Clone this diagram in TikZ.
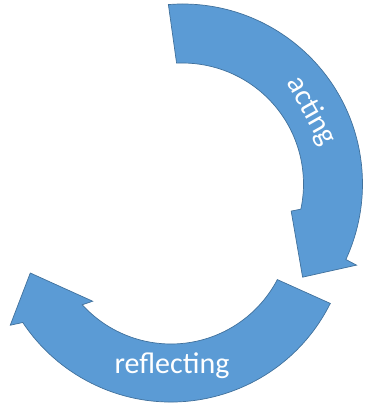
\documentclass[tikz,border=0pt]{standalone}
\usepackage{fontspec}
\setmainfont{Carlito}
\definecolor{arrowfill}{RGB}{91,155,213}
\definecolor{arrowline}{RGB}{65,113,156}
\tikzset{
  cyclearrow/.style={fill=arrowfill, draw=arrowline, line width=0.7pt, line join=miter},
  arrowlabel/.style={text=white, font=\fontsize{30}{32}\selectfont, inner sep=0pt}
}
\begin{document}
\begin{tikzpicture}[x=1pt,y=1pt]
\useasboundingbox (0,0) rectangle (367,407);
% centres of the two curved arrows
\coordinate (ctop) at (182.5,223);
\coordinate (cbot) at (171,183);

% upper arrow: from the top, clockwise down the right side
\draw[cyclearrow]
  ([shift={(ctop)}]94.5:180) arc[start angle=94.5, end angle=-24.8, radius=180]
  -- ([shift={(ctop)}]-25:192)
  -- ([shift={(ctop)}]-37.8:152)
  -- ([shift={(ctop)}]-14:112)
  -- ([shift={(ctop)}]-12:121)
  arc[start angle=-12, end angle=92.8, radius=121]
  -- cycle;

% lower arrow: from the right, clockwise under the bottom to the left
\draw[cyclearrow]
  ([shift={(cbot)}]-26.5:178) arc[start angle=-26.5, end angle=-146.4, radius=178]
  -- ([shift={(cbot)}]-147.8:190)
  -- ([shift={(cbot)}]-160.8:149)
  -- ([shift={(cbot)}]-135.4:110)
  -- ([shift={(cbot)}]-137.7:120)
  arc[start angle=-137.7, end angle=-27.6, radius=120]
  -- cycle;

\node[arrowlabel, rotate=-60.5] (acting) at ([shift={(ctop)}]29.5:148) {acting};
\node[arrowlabel, anchor=base] (reflecting) at (172,34) {reflecting};
\end{tikzpicture}
\end{document}
